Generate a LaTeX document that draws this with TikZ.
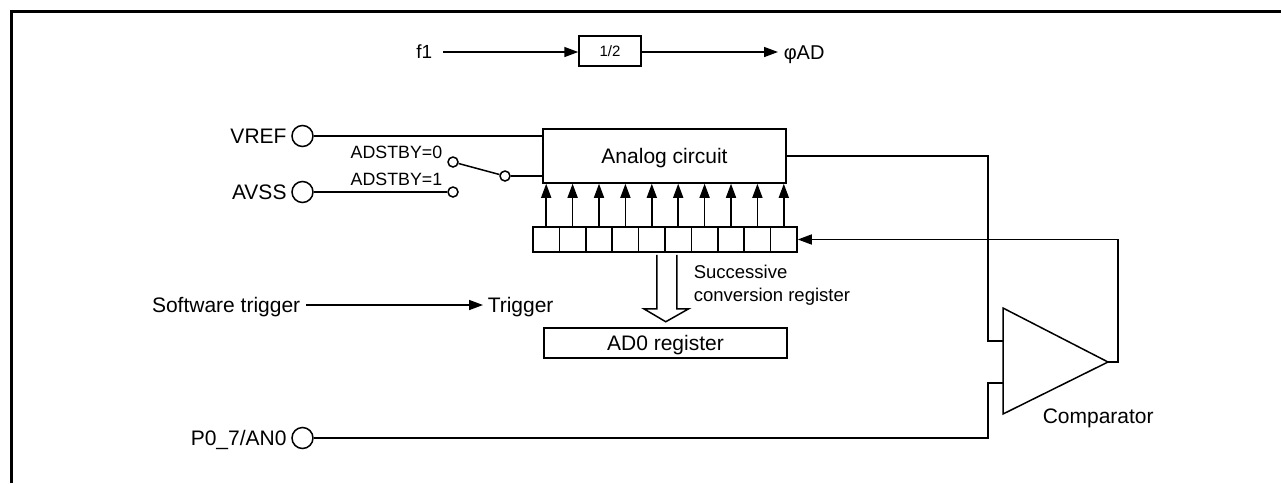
\documentclass[tikz,border=0pt]{standalone}
\usepackage{fontspec}
\setmainfont{Liberation Sans}
\usetikzlibrary{arrows.meta, positioning}

\tikzset{
    pin/.style={circle, draw, minimum size=21pt, inner sep=0pt},
    contact/.style={circle, draw, fill=white, minimum size=10pt, inner sep=0pt},
    block/.style={draw, inner sep=0pt, font=\fontsize{21}{25}\selectfont, text height=15pt, text depth=0pt},
    lbl/.style={inner sep=0pt, font=\fontsize{21}{25}\selectfont, text height=15pt, text depth=0pt},
    lblsmall/.style={inner sep=0pt, font=\fontsize{17.8}{22}\selectfont, text height=12.7pt, text depth=0pt},
    sig/.style={-{Triangle[length=14pt, width=10pt]}}
}

\begin{document}
\begin{tikzpicture}[x=1pt, y=-1pt, line width=1.5pt]
    \useasboundingbox (0,0) rectangle (1281,483);

    % Frame
    \draw[line width=3pt] (11,483) -- (11,11) -- (1281,11);

    % Clock divider
    \node[block, minimum width=62pt, minimum height=30pt, font=\fontsize{15}{18}\selectfont, text height=11pt] (div) at (610,51) {1/2};
    \node[lbl, anchor=east, font=\fontsize{19}{23}\selectfont, text height=13.6pt] (fone) at (433,52) {f1};
    \node[lbl, anchor=west, font=\fontsize{20}{24}\selectfont, text height=14.3pt] (phiad) at (783,52) {φAD};
    \draw[sig, shorten <=10pt] (fone) -- (fone -| div.west);
    \draw[sig, shorten >=5pt] (div.east |- phiad) -- (phiad);

    % Analog circuit and register
    \node[block, minimum width=243pt, minimum height=54pt] (ana) at (664.5,156) {Analog circuit};
    \foreach \i in {0,...,9} {
        \node[draw, minimum width=26.4pt, minimum height=25pt, inner sep=0pt] (r\i) at ({546.2+26.4*\i},239.5) {};
        \draw[sig] (r\i.north) -- (r\i.north |- ana.south);
    }
    \node[inner sep=0pt, font=\fontsize{18.5}{23}\selectfont, align=left, anchor=north west] (sreg) at (693,264)
        {Successive\\conversion register};

    % Transfer to AD0
    \node[block, minimum width=243pt, minimum height=30pt] (adz) at (665.5,343) {AD0 register};
    \coordinate (xfer) at (r4.south east);
    \draw[line join=miter] (xfer) ++(-9,2) -- ++(0,54) -- ++(-13,0) -- ++(22,13) -- ++(23,-13) -- ++(-12,0) -- ++(0,-54);

    % Trigger
    \node[lbl, anchor=east] (swtrg) at (301,305) {Software trigger};
    \node[lbl, anchor=west] (trg) at (487,305) {Trigger};
    \draw[sig, shorten <=5pt, shorten >=4pt] (swtrg) -- (trg);

    % Pins
    \node[pin] (vref) at (302.5,136) {};
    \node[lbl, left=4pt of vref] {VREF};
    \node[pin] (avss) at (302.5,192) {};
    \node[lbl, left=4pt of avss] {AVSS};
    \node[pin] (anz) at (302.5,438) {};
    \node[lbl, left=4pt of anz] {P0\_7/AN0};

    % Standby switch
    \node[contact] (sw0) at (453,162) {};
    \node[contact] (sw1) at (453,192) {};
    \node[contact] (swp) at (505,176) {};
    \node[lblsmall, anchor=east] at (443,152.5) {ADSTBY=0};
    \node[lblsmall, anchor=east] at (443,179.5) {ADSTBY=1};
    \draw (vref) -- (vref -| ana.west);
    \draw (avss) -- (sw1);
    \draw (sw0) -- (swp);
    \draw (swp) -- (swp -| ana.west);

    % Comparator
    \coordinate (cmpa) at (1003,308);
    \coordinate (cmpb) at (1003,414);
    \coordinate (cmpo) at (1108,362);
    \coordinate (cmpp) at (1003,341);
    \coordinate (cmpn) at (1003,383);
    \draw[line join=miter] (cmpa) -- (cmpo) -- (cmpb) -- cycle;
    \node[lbl, anchor=west] (cmplbl) at (1042,416) {Comparator};
    \draw (ana.east) -- ++(201,0) |- (cmpp);
    \draw (anz) -- (anz -| 988,0) |- (cmpn);
    \draw[sig] (cmpo) -- ++(10,0) |- (r9.east);
\end{tikzpicture}
\end{document}
